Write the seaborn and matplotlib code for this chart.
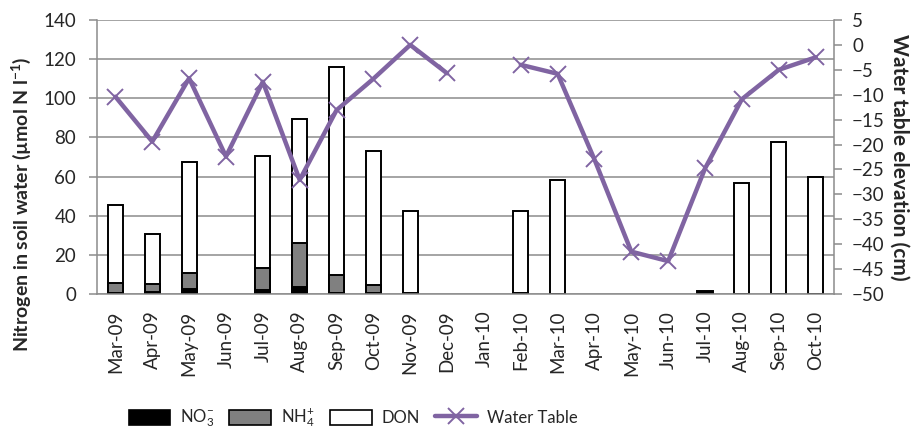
import numpy as np
import pandas as pd
import matplotlib
matplotlib.use("Agg")
import matplotlib.pyplot as plt
import seaborn as sns
from matplotlib.patches import Patch
from matplotlib.lines import Line2D

# Monthly sampling dates
months = ["Mar-09", "Apr-09", "May-09", "Jun-09", "Jul-09", "Aug-09", "Sep-09",
          "Oct-09", "Nov-09", "Dec-09", "Jan-10", "Feb-10", "Mar-10", "Apr-10",
          "May-10", "Jun-10", "Jul-10", "Aug-10", "Sep-10", "Oct-10"]

nan = np.nan
# Nitrogen fractions in soil water (µmol N l-1); NaN = not sampled
no3 = [0.5, 0.8, 2.4, nan, 2.0, 3.4, 0.3, 0.3, nan, nan, nan, nan, nan, nan,
       nan, nan, 1.5, nan, nan, nan]
nh4 = [5.3, 4.3, 8.5, nan, 11.4, 22.7, 9.6, 4.5, 0.3, nan, nan, 0.7, 0.2, nan,
       nan, nan, 0.0, 0.2, 0.2, 0.2]
don = [39.8, 25.7, 56.5, nan, 57.0, 63.5, 106.1, 68.4, 42.3, nan, nan, 41.7,
       58.1, nan, nan, nan, 0.0, 56.5, 77.6, 59.8]

# Water table elevation (cm)
water_table = [-10.4, -19.4, -6.7, -22.4, -7.4, -27.1, -13.1, -6.8, 0.0, -5.7,
               nan, -4.0, -5.8, -23.0, -41.5, -43.4, -24.8, -10.9, -5.0, -2.5]

sns.set_style("white")
plt.rcParams["font.family"] = ["Lato", "DejaVu Sans"]
plt.rcParams["mathtext.fontset"] = "custom"
plt.rcParams["mathtext.rm"] = "Lato"
plt.rcParams["mathtext.it"] = "Lato:italic"
plt.rcParams["mathtext.bf"] = "Lato:bold"
plt.rcParams["mathtext.default"] = "rm"

grey = "#8c8c8c"
purple = "#8064A2"

df = pd.DataFrame({"month": months,
                   "no3": no3, "nh4": nh4, "don": don})
df["nh4_top"] = df[["no3", "nh4"]].fillna(0).sum(axis=1).where(df["nh4"].notna())
df["total"] = df[["no3", "nh4", "don"]].fillna(0).sum(axis=1).where(df["don"].notna())
df.loc[df["no3"].fillna(0) <= 0, "no3"] = nan
df.loc[df["month"] == "Jul-10", "nh4_top"] = nan
df.loc[df["month"] == "Jul-10", "total"] = nan

fig = plt.figure(figsize=(9.16, 4.29), dpi=100)
ax = fig.add_axes([97 / 916, 1 - 294 / 429, (834 - 97) / 916, (294 - 20) / 429])

bar_kw = dict(order=months, errorbar=None, width=0.41, saturation=1,
              edgecolor="black", linewidth=1.4, ax=ax)
# Stacked bars drawn as overlapping cumulative heights
sns.barplot(data=df, x="month", y="total", color="white", **bar_kw)
sns.barplot(data=df, x="month", y="nh4_top", color="#808080", **bar_kw)
sns.barplot(data=df, x="month", y="no3", color="black", **bar_kw)

ax.set_ylim(0, 140)
ax.set_yticks(np.arange(0, 141, 20))
ax.yaxis.grid(True, color=grey, lw=1.1)
ax.set_axisbelow(True)
ax.set_xlim(-0.5, len(months) - 0.5)
ax.set_xlabel("")
ax.set_ylabel("")
ax.set_xticks(range(len(months)))
ax.set_xticklabels(months, rotation=90, fontsize=13.5)
ax.set_xticks(np.arange(-0.5, len(months), 1.0), minor=True)
ax.tick_params(axis="x", which="major", length=0, pad=12)
ax.tick_params(axis="x", which="minor", length=6, color=grey, width=1.1, direction="out")
ax.tick_params(axis="y", length=6, color=grey, width=1.1, direction="out",
               labelsize=13.5, left=True, pad=9)
for side in ["left", "bottom"]:
    ax.spines[side].set_color(grey)
    ax.spines[side].set_linewidth(1.1)
for side in ["top", "right"]:
    ax.spines[side].set_visible(False)

# Water table on secondary axis, broken where no reading exists
wt = pd.DataFrame({"pos": np.arange(len(months)), "wt": water_table})
wt["seg"] = wt["wt"].isna().cumsum()
wt = wt.dropna()
ax2 = ax.twinx()
sns.lineplot(data=wt, x="pos", y="wt", units="seg", estimator=None,
             color=purple, lw=3.2, marker="x", markersize=12, mew=1.4,
             mec=purple, ax=ax2)
ax2.set_ylim(-50, 5)
ax2.set_yticks(np.arange(-50, 6, 5))
ax2.set_xlim(-0.5, len(months) - 0.5)
ax2.set_ylabel("")
ax2.set_xlabel("")
ax2.tick_params(axis="y", length=6, color=grey, width=1.1, direction="out",
                labelsize=13.5, right=True, pad=7)
for side in ["left", "bottom", "top"]:
    ax2.spines[side].set_visible(False)
ax2.spines["right"].set_color(grey)
ax2.spines["right"].set_linewidth(1.1)

fig.text(21 / 916, 1 - 204 / 429, r"Nitrogen in soil water (µmol N l$\mathbf{^{-1}}$)",
         rotation=90, ha="center", va="center", fontsize=14, fontweight="bold")
fig.text(899 / 916, 1 - 157 / 429, "Water table elevation (cm)",
         rotation=-90, ha="center", va="center", fontsize=15, fontweight="bold")

handles = [Patch(facecolor="black", edgecolor="black", lw=1.2),
           Patch(facecolor="#808080", edgecolor="black", lw=1.2),
           Patch(facecolor="white", edgecolor="black", lw=1.2),
           Line2D([], [], color=purple, lw=3.2, marker="x", markersize=12, mew=1.4)]
labels = ["NO$_3^{-}$", "NH$_4^{+}$", "DON", "Water Table"]
fig.legend(handles, labels, loc="center", bbox_to_anchor=(353 / 916, 1 - 418 / 429),
           ncol=4, frameon=False, fontsize=12, handlelength=2.5, handleheight=1.05,
           columnspacing=0.9, handletextpad=0.6)

fig.savefig("out.png", dpi=100)
